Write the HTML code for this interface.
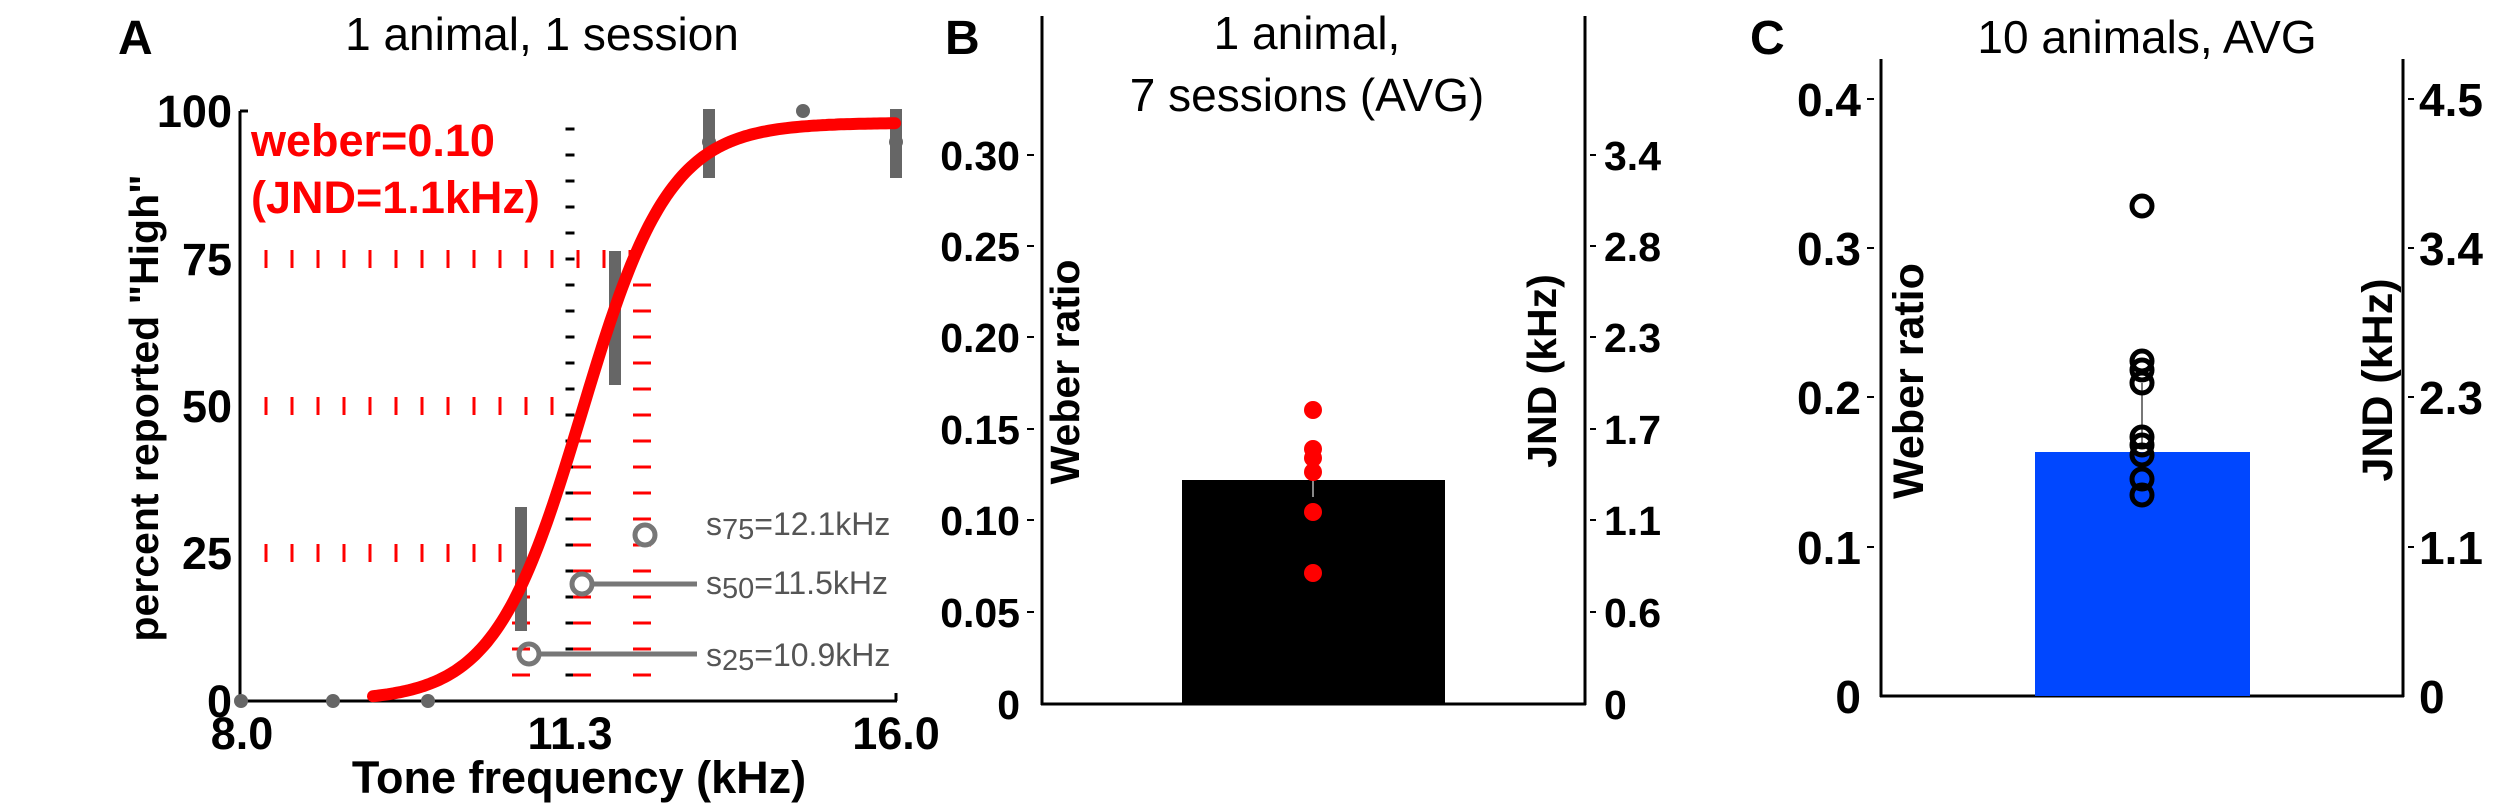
<!DOCTYPE html>
<html><head><meta charset="utf-8"><style>
html,body{margin:0;padding:0;background:#fff;}
svg{display:block;}
text{font-family:"Liberation Sans",sans-serif;}
.b{font-weight:bold;}
</style></head><body>
<svg id="s" width="2500" height="811" viewBox="0 0 2500 811" xmlns="http://www.w3.org/2000/svg">
<g id="dyn"></g>
<!-- Panel A -->
<text x="118" y="54" class="b" font-size="48">A</text>
<text x="542" y="50" font-size="46" text-anchor="middle">1 animal, 1 session</text>
<line x1="240" y1="111" x2="240" y2="703" stroke="#000" stroke-width="3"/>
<line x1="239" y1="701" x2="897" y2="701" stroke="#000" stroke-width="3"/>
<line x1="240" y1="111" x2="248" y2="111" stroke="#000" stroke-width="3"/>
<line x1="896" y1="701" x2="896" y2="693" stroke="#000" stroke-width="3"/>
<g class="b" font-size="45" text-anchor="end">
<text x="232" y="127">100</text><text x="232" y="275">75</text><text x="232" y="422">50</text><text x="232" y="569">25</text><text x="232" y="717">0</text>
</g>
<g class="b" font-size="45" text-anchor="middle">
<text x="242" y="749">8.0</text><text x="570" y="749">11.3</text><text x="896" y="749">16.0</text>
<text x="579" y="793">Tone frequency (kHz)</text>
</g>
<text class="b" font-size="41" text-anchor="middle" transform="translate(158,408) rotate(-90)">percent reported "High"</text>
<g class="b" font-size="45" fill="#ff0000">
<text x="251" y="156">weber=0.10</text><text x="251" y="213">(JND=1.1kHz)</text>
</g>
<!-- error bars -->
<g stroke="#666" stroke-width="12">
<line x1="521" y1="507" x2="521" y2="631"/>
<line x1="615" y1="251" x2="615" y2="385"/>
<line x1="709" y1="109" x2="709" y2="178"/>
<line x1="896" y1="109" x2="896" y2="178"/>
</g>
<g fill="#666">
<circle cx="241" cy="701" r="7"/><circle cx="333" cy="701" r="7"/><circle cx="428" cy="701" r="7"/>
<circle cx="709" cy="142" r="7"/><circle cx="803" cy="111" r="7"/><circle cx="896" cy="142" r="7"/>
</g>
<path id="sig" fill="none" stroke="#ff0000" stroke-width="12" stroke-linecap="round"/>
<g stroke="#777" stroke-width="5" fill="none">
<circle cx="645" cy="535" r="10"/>
<circle cx="582" cy="584" r="10"/><line x1="592" y1="584" x2="697" y2="584"/>
<circle cx="529" cy="654" r="10"/><line x1="539" y1="654" x2="697" y2="654"/>
</g>
<g font-size="32" fill="#555">
<text x="706" y="535">s<tspan font-size="29" dy="4">75</tspan><tspan dy="-4">=12.1kHz</tspan></text>
<text x="706" y="594">s<tspan font-size="29" dy="4">50</tspan><tspan dy="-4">=11.5kHz</tspan></text>
<text x="706" y="666">s<tspan font-size="29" dy="4">25</tspan><tspan dy="-4">=10.9kHz</tspan></text>
</g>

<!-- Panel B -->
<text x="945" y="54" class="b" font-size="48">B</text>
<text x="1307" y="49" font-size="46" text-anchor="middle">1 animal,</text>
<text x="1307" y="111" font-size="46" text-anchor="middle">7 sessions (AVG)</text>
<line x1="1042" y1="16" x2="1042" y2="705" stroke="#000" stroke-width="3"/>
<line x1="1585" y1="16" x2="1585" y2="705" stroke="#000" stroke-width="3"/>
<line x1="1041" y1="704" x2="1586" y2="704" stroke="#000" stroke-width="3"/>
<rect x="1182" y="480" width="263" height="224" fill="#000"/>
<line x1="1313" y1="472" x2="1313" y2="497" stroke="#888" stroke-width="2"/>
<g fill="#ff0000">
<circle cx="1313" cy="410" r="9"/><circle cx="1313" cy="449" r="9"/><circle cx="1313" cy="458" r="9"/>
<circle cx="1313" cy="472" r="9"/><circle cx="1313" cy="512" r="9"/><circle cx="1313" cy="573" r="9"/>
</g>
<g stroke="#000" stroke-width="2">
<line x1="1027" y1="155" x2="1034" y2="155"/><line x1="1027" y1="246" x2="1034" y2="246"/><line x1="1027" y1="337" x2="1034" y2="337"/>
<line x1="1027" y1="429" x2="1034" y2="429"/><line x1="1027" y1="520" x2="1034" y2="520"/><line x1="1027" y1="612" x2="1034" y2="612"/>
<line x1="1590" y1="155" x2="1596" y2="155"/><line x1="1590" y1="246" x2="1596" y2="246"/><line x1="1590" y1="337" x2="1596" y2="337"/>
<line x1="1590" y1="429" x2="1596" y2="429"/><line x1="1590" y1="520" x2="1596" y2="520"/><line x1="1590" y1="612" x2="1596" y2="612"/>
</g>
<g class="b" font-size="41" text-anchor="end">
<text x="1020" y="170">0.30</text><text x="1020" y="261">0.25</text><text x="1020" y="352">0.20</text><text x="1020" y="444">0.15</text>
<text x="1020" y="535">0.10</text><text x="1020" y="627">0.05</text><text x="1020" y="719">0</text>
</g>
<g class="b" font-size="41">
<text x="1604" y="170">3.4</text><text x="1604" y="261">2.8</text><text x="1604" y="352">2.3</text><text x="1604" y="444">1.7</text>
<text x="1604" y="535">1.1</text><text x="1604" y="627">0.6</text><text x="1604" y="719">0</text>
</g>
<text class="b" font-size="41" text-anchor="middle" transform="translate(1079,372) rotate(-90)">Weber ratio</text>
<text class="b" font-size="41" text-anchor="middle" transform="translate(1556,371) rotate(-90)">JND (kHz)</text>

<!-- Panel C -->
<text x="1750" y="54" class="b" font-size="48">C</text>
<text x="2147" y="53" font-size="46" text-anchor="middle">10 animals, AVG</text>
<line x1="1881" y1="59" x2="1881" y2="697" stroke="#000" stroke-width="3"/>
<line x1="2403" y1="59" x2="2403" y2="697" stroke="#000" stroke-width="3"/>
<line x1="1880" y1="696" x2="2404" y2="696" stroke="#000" stroke-width="3"/>
<rect x="2035" y="452" width="215" height="244" fill="#0047ff"/>
<line x1="2142" y1="383" x2="2142" y2="445" stroke="#777" stroke-width="2"/>
<g stroke="#000" stroke-width="5" fill="none">
<circle cx="2142" cy="206" r="10"/><circle cx="2142" cy="361" r="10"/><circle cx="2142" cy="370" r="10"/>
<circle cx="2142" cy="383" r="10"/><circle cx="2142" cy="437" r="10"/><circle cx="2142" cy="445" r="10"/>
<circle cx="2142" cy="455" r="10"/><circle cx="2142" cy="479" r="10"/><circle cx="2142" cy="495" r="10"/>
</g>
<g stroke="#000" stroke-width="2">
<line x1="1867" y1="99" x2="1874" y2="99"/><line x1="1867" y1="248" x2="1874" y2="248"/><line x1="1867" y1="397" x2="1874" y2="397"/><line x1="1867" y1="547" x2="1874" y2="547"/>
<line x1="2408" y1="99" x2="2414" y2="99"/><line x1="2408" y1="248" x2="2414" y2="248"/><line x1="2408" y1="397" x2="2414" y2="397"/><line x1="2408" y1="547" x2="2414" y2="547"/>
</g>
<g class="b" font-size="46" text-anchor="end">
<text x="1861" y="116">0.4</text><text x="1861" y="265">0.3</text><text x="1861" y="414">0.2</text><text x="1861" y="564">0.1</text><text x="1861" y="713">0</text>
</g>
<g class="b" font-size="46">
<text x="2419" y="116">4.5</text><text x="2419" y="265">3.4</text><text x="2419" y="414">2.3</text><text x="2419" y="564">1.1</text><text x="2419" y="713">0</text>
</g>
<text class="b" font-size="43" text-anchor="middle" transform="translate(1923,381) rotate(-90)">Weber ratio</text>
<text class="b" font-size="43" text-anchor="middle" transform="translate(2392,380) rotate(-90)">JND (kHz)</text>
</svg>
<script>
(function(){
var ns="http://www.w3.org/2000/svg",g=document.getElementById("dyn");
function r(x,y,w,h,c){var e=document.createElementNS(ns,"rect");e.setAttribute("x",x);e.setAttribute("y",y);e.setAttribute("width",w);e.setAttribute("height",h);e.setAttribute("fill",c);g.appendChild(e);}
function hl(y,x0,x1){for(var x=x0;x<=x1;x+=26)r(x-1.5,y-9,3,18,"#ff0000");}
hl(259,240,633);hl(406,240,555);hl(553,240,503);
function vl(x,y0,y1,c,w){for(var y=y1;y>=y0;y-=26)r(x-w/2,y-1.5,w,3,c);}
vl(570,127,701,"#000",9);vl(582,437,701,"#ff0000",18);vl(642,282,701,"#ff0000",18);vl(521,569,701,"#ff0000",18);
var d="";for(var x=373;x<=896;x+=3){var y=701-590*0.98/(1+Math.exp(-(x-582)/43.7));d+=(d?"L":"M")+x+","+y.toFixed(1);}
document.getElementById("sig").setAttribute("d",d);
})();
</script>
</body></html>
